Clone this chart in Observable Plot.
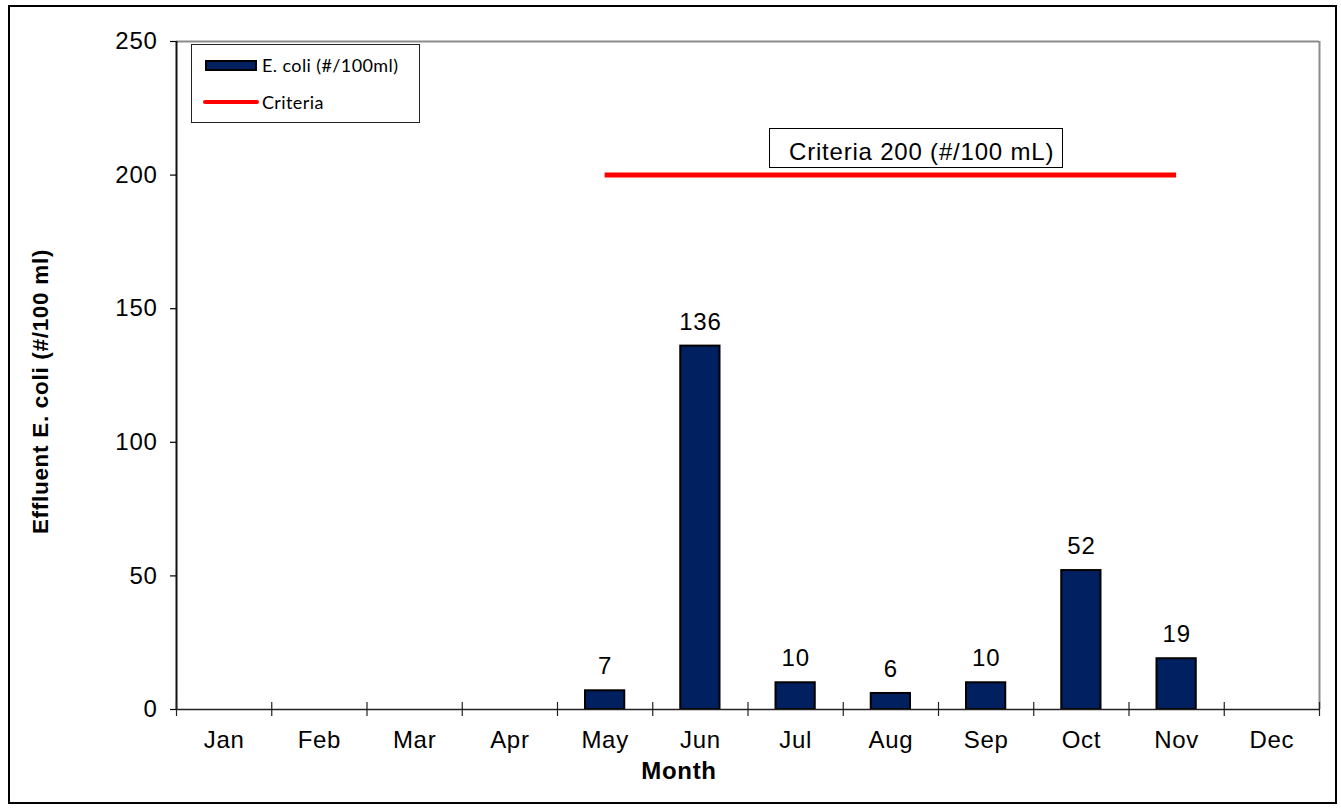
<!DOCTYPE html>
<html>
<head>
<meta charset="utf-8">
<script src="https://cdn.jsdelivr.net/npm/d3@7"></script>
<script src="https://cdn.jsdelivr.net/npm/@observablehq/plot@0.6"></script>
<style>
  html, body { margin: 0; padding: 0; background: #fff; }
  #wrap { position: relative; width: 1341px; height: 808px; font-family: "Liberation Sans", Arial, sans-serif; }
  #border { position: absolute; left: 8px; top: 5px; width: 1325px; height: 795px; border: 2px solid #000; pointer-events: none; }
  #legend { position: absolute; left: 191px; top: 44px; width: 227px; height: 77px; border: 1px solid #222; background: #fff; font-family: Lato, "Open Sans", sans-serif; font-size: 18px; letter-spacing: 0.4px; }
  .li { position: absolute; left: 0; height: 22px; display: flex; align-items: center; }
  .sw { display: inline-block; box-sizing: border-box; }
  #anno { position: absolute; left: 769px; top: 128px; width: 292px; height: 38px; border: 1.5px solid #000; background: #fff; font-size: 24px; letter-spacing: 0.8px; box-sizing: content-box; }
  #anno span { position: absolute; left: 19px; top: 9px; white-space: nowrap; }
  svg text { letter-spacing: 0.7px; }
</style>
</head>
<body>
<div id="wrap">
  <div id="chart"></div>
  <div id="border"></div>
</div>
<script>
const months = ["Jan","Feb","Mar","Apr","May","Jun","Jul","Aug","Sep","Oct","Nov","Dec"];
const ecoliMonths = ["May","Jun","Jul","Aug","Sep","Oct","Nov"];
const ecoliValues = [7, 136, 10, 6, 10, 52, 19];
const criteriaValue = 200;
const criteriaFrom = "May";
const criteriaTo = "Nov";
const yTicks = [0, 50, 100, 150, 200, 250];
const seriesName = "E. coli (#/100ml)";
const criteriaName = "Criteria";
const annotation = "Criteria 200 (#/100 mL)";
const xTitle = "Month";
const yTitle = "Effluent E. coli (#/100 ml)";

const navy = "#002060";
const idx = m => months.indexOf(m);
const data = ecoliMonths.map((m, i) => ({month: m, i: idx(m), value: ecoliValues[i]}));
const bounds = d3.range(months.length + 1);
const centers = months.map((m, i) => i + 0.5);

const plot = Plot.plot({
  width: 1341,
  height: 808,
  marginLeft: 176,
  marginRight: 22,
  marginTop: 41,
  marginBottom: 99,
  style: {fontFamily: "'Liberation Sans', Arial, sans-serif", fontSize: "24px", color: "#000", background: "transparent"},
  x: {type: "linear", domain: [0, months.length], axis: null},
  y: {domain: [0, 250], axis: null},
  marks: [
    Plot.ruleY([250], {stroke: "#8c8c8c", strokeWidth: 2}),
    Plot.ruleX([months.length], {stroke: "#8c8c8c", strokeWidth: 2}),
    Plot.rectY(data, {x1: d => d.i, x2: d => d.i + 1, y: "value", insetLeft: 28, insetRight: 28, fill: navy, stroke: "#000", strokeWidth: 2}),
    Plot.ruleY([0], {stroke: "#222", strokeWidth: 1.5}),
    Plot.ruleX([0], {stroke: "#111", strokeWidth: 2}),
    Plot.axisY({ticks: yTicks, tickSize: 6, tickPadding: 13, fontSize: 24, stroke: "#000", strokeWidth: 1.2, label: null}),
    Plot.axisX({ticks: bounds, tickFormat: () => "", tickSize: 14, dy: -7, stroke: "#222", strokeWidth: 1.2, label: null}),
    Plot.axisX({ticks: centers, tickFormat: v => months[Math.floor(v)], tickSize: 0, tickPadding: 21, fontSize: 24, label: null}),
    Plot.ruleY([criteriaValue], {x1: idx(criteriaFrom) + 0.5, x2: idx(criteriaTo) + 0.5, stroke: "#ff0000", strokeWidth: 5}),
    Plot.text(data, {x: d => d.i + 0.5, y: "value", text: d => String(d.value), dy: -24, fontSize: 24, fill: "#000"}),
    Plot.text([xTitle], {frameAnchor: "bottom", dx: -69, dy: 69, fontWeight: "bold", fontSize: 24, fill: "#000"}),
    Plot.text([yTitle], {frameAnchor: "left", textAnchor: "middle", rotate: -90, dx: -136, dy: 16, fontWeight: "bold", fontSize: 22.5, fill: "#000"})
  ]
});
document.getElementById("chart").appendChild(plot);

const wrap = document.getElementById("wrap");
const legend = document.createElement("div");
legend.id = "legend";
legend.innerHTML = `
  <div class="li" style="top:9px;left:13px"><span class="sw" style="width:52px;height:11px;background:${navy};border:2px solid #000"></span><span style="margin-left:5px">${seriesName}</span></div>
  <div class="li" style="top:46px;left:11px"><span class="sw" style="width:56px;height:4px;background:#ff0000;border-radius:2px"></span><span style="margin-left:3px">${criteriaName}</span></div>`;
wrap.appendChild(legend);

const anno = document.createElement("div");
anno.id = "anno";
anno.innerHTML = `<span>${annotation}</span>`;
wrap.appendChild(anno);
</script>
</body>
</html>
